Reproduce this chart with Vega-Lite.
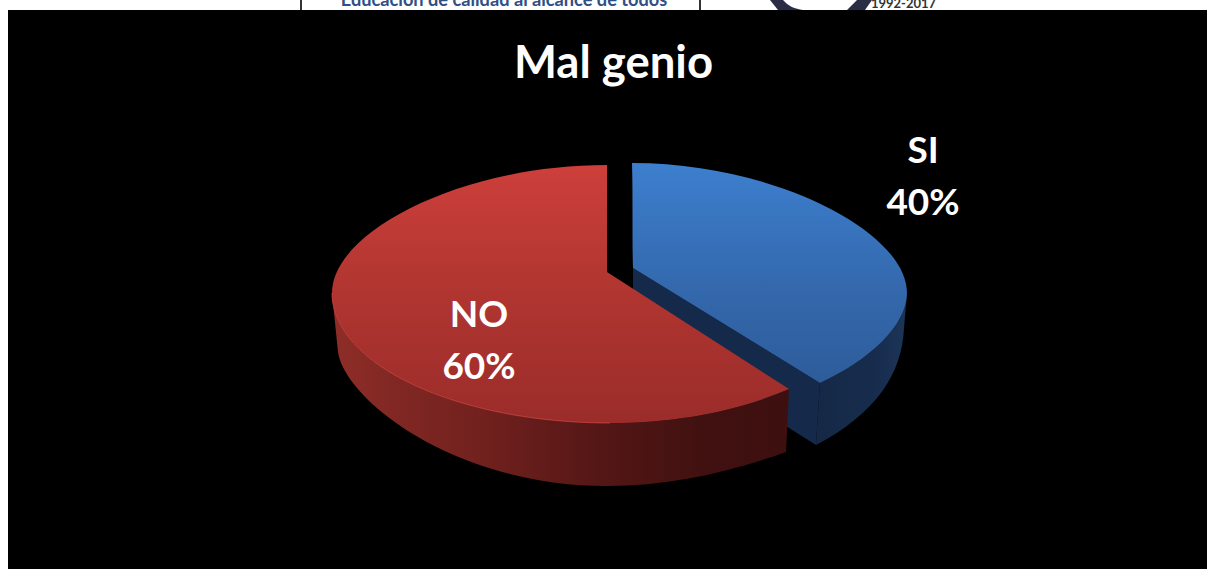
{
"$schema":"https://vega.github.io/schema/vega-lite/v6.json",
"width":1199,"height":559,"autosize":{"type":"none"},
"padding":{"left":8,"top":10,"right":0,"bottom":0},
"background":"#ffffff",
"view":{"fill":"#000000","stroke":null},
"title":{"text":"Mal genio","font":"Lato","fontSize":45.5,"fontWeight":"bold","color":"#ffffff","anchor":"middle","frame":"group","dx":6,"offset":-96},
"data":{"values":[{"slice":"NO","value":60,"label":"NO\n60%"},{"slice":"SI","value":40,"label":"SI\n40%"}]},
"resolve":{"scale":{"x":"independent","y":"independent"}},
"layer":[
{"transform":[{"filter":"datum.slice==='SI'"}],
 "mark":{"type":"point","filled":true,"opacity":1,"size":4,"stroke":null,"fill":"#15294a","shape":"M1,0 L188,115 L184,177 L1,62 Z"},
 "encoding":{"x":{"field":"slice","type":"nominal","axis":null,"scale":{"domain":["NO","SI"],"range":[599,624],"padding":0}},"y":{"field":"slice","type":"nominal","axis":null,"scale":{"domain":["NO","SI"],"range":[262,258],"padding":0}}}},
{"transform":[{"filter":"datum.slice==='SI'"}],
 "mark":{"type":"point","filled":true,"opacity":1,"size":4,"stroke":null,"fill":{"gradient":"linear","x1":0,"y1":0,"x2":1,"y2":0,"stops":[{"offset":0,"color":"#152946"},{"offset":0.6,"color":"#172b4c"},{"offset":1,"color":"#1c3558"}]},"shape":"M275,25 L272,60 C270,105 245,145 184,177 L188,115 C238,92 275,57 275,25 Z"},
 "encoding":{"x":{"field":"slice","type":"nominal","axis":null,"scale":{"domain":["NO","SI"],"range":[599,624],"padding":0}},"y":{"field":"slice","type":"nominal","axis":null,"scale":{"domain":["NO","SI"],"range":[262,258],"padding":0}}}},
{"transform":[{"filter":"datum.slice==='SI'"}],
 "mark":{"type":"point","filled":true,"opacity":1,"size":4,"stroke":null,"fill":{"gradient":"linear","x1":0,"y1":0,"x2":0,"y2":1,"stops":[{"offset":0,"color":"#3d7fce"},{"offset":0.55,"color":"#3469ae"},{"offset":1,"color":"#2e5c9a"}]},"shape":"M1,0 C0,-30 1,-70 0,-105 C143,-105 275,-36 275,25 C275,57 238,92 188,115 Z"},
 "encoding":{"x":{"field":"slice","type":"nominal","axis":null,"scale":{"domain":["NO","SI"],"range":[599,624],"padding":0}},"y":{"field":"slice","type":"nominal","axis":null,"scale":{"domain":["NO","SI"],"range":[262,258],"padding":0}}}},
{"transform":[{"filter":"datum.slice==='NO'"}],
 "mark":{"type":"point","filled":true,"opacity":1,"size":4,"stroke":null,"fill":{"gradient":"linear","x1":0,"y1":0,"x2":1,"y2":0,"stops":[{"offset":0,"color":"#8f2d28"},{"offset":0.15,"color":"#802723"},{"offset":0.35,"color":"#6f201d"},{"offset":0.6,"color":"#521615"},{"offset":0.82,"color":"#401110"},{"offset":1,"color":"#3d0f0e"}]},"shape":"M-275,21 L-269,80 C-262,128 -152,214 0,214 C63,214 123,200 179,180 L182,117 C133,138 73,151 3,151 C-149,151 -275,93 -275,21 Z"},
 "encoding":{"x":{"field":"slice","type":"nominal","axis":null,"scale":{"domain":["NO","SI"],"range":[599,624],"padding":0}},"y":{"field":"slice","type":"nominal","axis":null,"scale":{"domain":["NO","SI"],"range":[262,258],"padding":0}}}},
{"transform":[{"filter":"datum.slice==='NO'"}],
 "mark":{"type":"point","filled":true,"opacity":1,"size":4,"stroke":null,"fill":{"gradient":"linear","x1":0,"y1":0,"x2":0,"y2":1,"stops":[{"offset":0,"color":"#cd3f3b"},{"offset":0.5,"color":"#b03530"},{"offset":1,"color":"#9b2c2a"}]},"shape":"M0,0 L0,-107 C-147,-107 -275,-40 -275,21 C-275,93 -149,151 3,151 C73,151 133,138 182,117 Z"},
 "encoding":{"x":{"field":"slice","type":"nominal","axis":null,"scale":{"domain":["NO","SI"],"range":[599,624],"padding":0}},"y":{"field":"slice","type":"nominal","axis":null,"scale":{"domain":["NO","SI"],"range":[262,258],"padding":0}}}},
{"transform":[{"filter":"datum.slice==='NO'"}],
 "mark":{"type":"point","filled":false,"opacity":0.8,"size":4,"strokeWidth":1,"stroke":"#cc4640","shape":"M-275,21 C-275,93 -149,151 3,151"},
 "encoding":{"x":{"field":"slice","type":"nominal","axis":null,"scale":{"domain":["NO","SI"],"range":[599,624],"padding":0}},"y":{"field":"slice","type":"nominal","axis":null,"scale":{"domain":["NO","SI"],"range":[262,258],"padding":0}}}},
{"mark":{"type":"text","font":"Lato","fontSize":37,"fontWeight":"bold","color":"#ffffff","lineBreak":"\n","lineHeight":52,"align":"center","baseline":"middle"},
 "encoding":{"text":{"field":"label"},
  "x":{"field":"slice","type":"nominal","axis":null,"scale":{"domain":["NO","SI"],"range":[471,915],"padding":0}},
  "y":{"field":"slice","type":"nominal","axis":null,"scale":{"domain":["NO","SI"],"range":[306,142],"padding":0}}}},
{"data":{"values":[{"part":"Educación de calidad al alcance de todos"},{"part":"1992-2017"}]},
 "mark":{"type":"text","font":"Lato","fontWeight":"bold","baseline":"alphabetic","align":"center"},
 "encoding":{"text":{"field":"part"},
  "x":{"field":"part","type":"nominal","axis":null,"scale":{"domain":["Educación de calidad al alcance de todos","1992-2017"],"range":[496,895.5],"padding":0}},
  "y":{"field":"part","type":"nominal","axis":null,"scale":{"domain":["Educación de calidad al alcance de todos","1992-2017"],"range":[-4,-2],"padding":0}},
  "size":{"field":"part","type":"nominal","legend":null,"scale":{"domain":["Educación de calidad al alcance de todos","1992-2017"],"range":[18.2,13]}},
  "color":{"field":"part","type":"nominal","legend":null,"scale":{"domain":["Educación de calidad al alcance de todos","1992-2017"],"range":["#2f4f86","#333333"]}}}},
{"data":{"values":[{"part":"logo"}]},
 "mark":{"type":"point","filled":false,"opacity":1,"size":4,"strokeWidth":2,"stroke":"#333333","shape":"M293,-10 L293,0 M692,-10 L692,0"},
 "encoding":{"x":{"field":"part","type":"nominal","axis":null,"scale":{"domain":["logo"],"range":[0,0],"padding":0}},"y":{"field":"part","type":"nominal","axis":null,"scale":{"domain":["logo"],"range":[0,0],"padding":0}}}},
{"data":{"values":[{"part":"logo"}]},
 "mark":{"type":"point","filled":true,"opacity":1,"size":4,"stroke":null,"fill":"#2a2d45","shape":"M762,-10 L775,-10 C780,-4 787,-1 795,0 L770,0 Z M849,-10 L864,-10 L857,0 L839,0 Z"},
 "encoding":{"x":{"field":"part","type":"nominal","axis":null,"scale":{"domain":["logo"],"range":[0,0],"padding":0}},"y":{"field":"part","type":"nominal","axis":null,"scale":{"domain":["logo"],"range":[0,0],"padding":0}}}}
]
}
